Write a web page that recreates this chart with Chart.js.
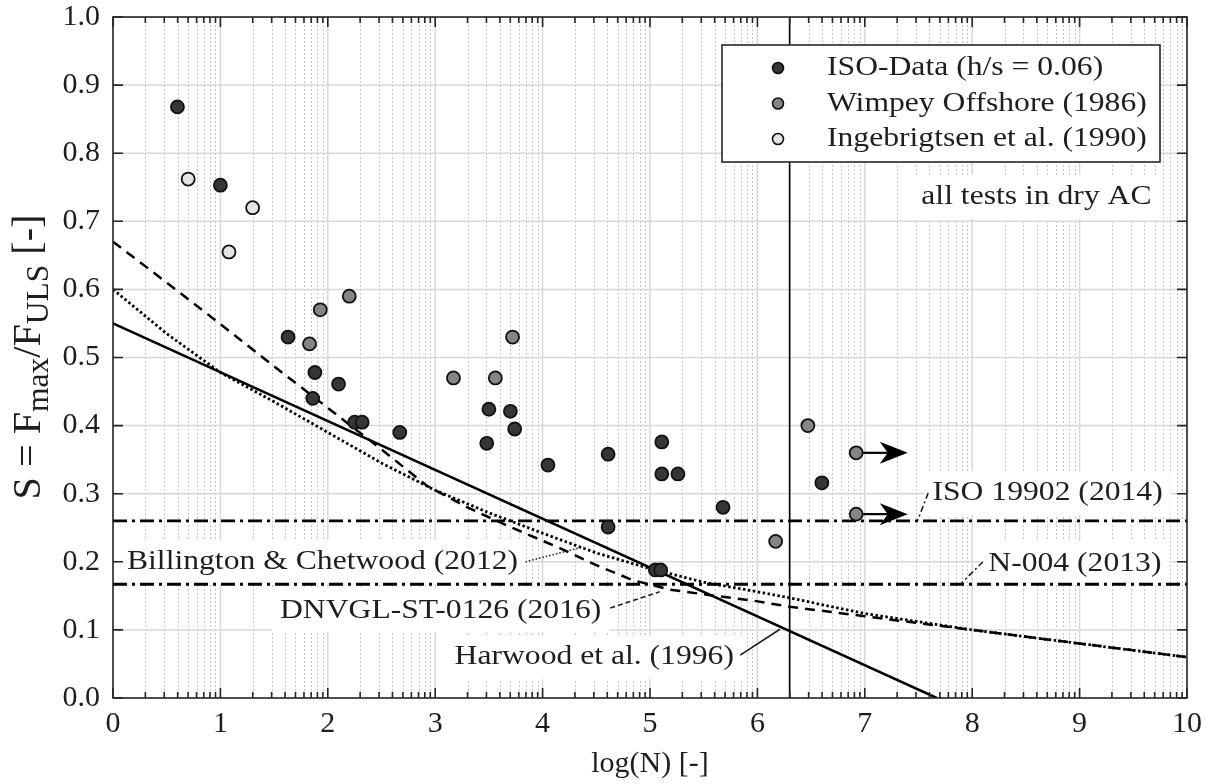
<!DOCTYPE html>
<html>
<head>
<meta charset="utf-8">
<script src="https://cdn.jsdelivr.net/npm/chart.js@4.4.1/dist/chart.umd.min.js"></script>
<style>
  html, body { margin: 0; padding: 0; background: #fff; }
  #wrap { width: 1209px; height: 784px; }
</style>
</head>
<body>
<div id="wrap"><canvas id="c" width="1209" height="784"></canvas></div>
<script>
// fatigue data: [log(N), S]
const isoData = [[0.6,0.868],[1.0,0.753],[1.63,0.53],[1.88,0.478],[1.86,0.44],[2.1,0.461],
  [2.25,0.405],[2.32,0.405],[2.67,0.39],[3.48,0.374],[3.5,0.424],[3.7,0.421],[3.74,0.395],
  [4.05,0.342],[4.61,0.358],[4.61,0.251],[5.05,0.188],[5.1,0.188],[5.11,0.376],[5.11,0.329],
  [5.26,0.329],[5.68,0.28],[6.6,0.316]];
const wimpeyData = [[1.83,0.52],[1.93,0.57],[2.2,0.59],[3.17,0.47],[3.56,0.47],[3.72,0.53],
  [6.17,0.23],[6.47,0.40],[6.92,0.36],[6.92,0.27]];
const ingebData = [[0.7,0.762],[1.08,0.655],[1.3,0.72]];

// design curves
const harwoodX = [0, 7.67];
const harwoodS = [0.55, 0];
const dnvX = [0,0.5,1,1.5,2,2.5,2.92,3.3,3.63,4.16,4.5,4.84,5.19,5.56,5.96,6.3,7,8,9,10];
const dnvS = [0.67,0.61,0.549,0.487,0.426,0.365,0.312,0.28,0.256,0.22,0.195,0.173,0.159,0.151,0.143,0.134,0.12,0.10,0.08,0.06];
const billX = [0,0.5,1,1.5,2,2.5,3,3.5,4,4.5,5,5.5,6,6.3,7,8,9,10];
const billS = [0.60,0.535,0.478,0.435,0.39,0.345,0.305,0.272,0.242,0.213,0.19,0.17,0.156,0.147,0.124,0.10,0.08,0.06];
const iso19902S = 0.26;
const n004S = 0.167;
const refLogN = 6.3;

// run-outs (arrows)
const arrowFrom = [[6.92,0.36],[6.92,0.27]];
const arrowToX = 7.4;

const xTicks = [0,1,2,3,4,5,6,7,8,9,10];
const yTicks = [0,0.1,0.2,0.3,0.4,0.5,0.6,0.7,0.8,0.9,1.0];

const legendItems = [
  { label: 'ISO-Data (h/s = 0.06)', color: '#363636' },
  { label: 'Wimpey Offshore (1986)', color: '#858585' },
  { label: 'Ingebrigtsen et al. (1990)', color: '#e4e4e4' }
];

const notes = [
  { text: 'ISO 19902 (2014)', x: 7.63, y: 0.301, align: 'left' },
  { text: 'N-004 (2013)', x: 8.15, y: 0.198, align: 'left' },
  { text: 'Billington & Chetwood (2012)', x: 0.13, y: 0.20, align: 'left' },
  { text: 'DNVGL-ST-0126 (2016)', x: 1.555, y: 0.129, align: 'left' },
  { text: 'Harwood et al. (1996)', x: 3.18, y: 0.06, align: 'left' },
  { text: 'all tests in dry AC', x: 9.67, y: 0.736, align: 'right' }
];
const leaders = [
  { pts: [[7.59,0.301],[7.49,0.26]], dash: [6,3,2,3] },
  { pts: [[8.10,0.20],[7.89,0.167]], dash: [6,3,2,3] },
  { pts: [[3.84,0.20],[4.38,0.222]], dash: [1.5,2] },
  { pts: [[4.63,0.132],[5.09,0.156]], dash: [5,3] },
  { pts: [[5.84,0.063],[6.21,0.101]], dash: [] }
];

const FONT = '"Liberation Serif", "Times New Roman", serif';
const SX = 1.13; // the source figure is slightly stretched horizontally
const INK = '#1e1e1e';

const toPts = arr => arr.map(p => ({ x: p[0], y: p[1] }));
const zipPts = (xs, ys) => xs.map((v, i) => ({ x: v, y: ys[i] }));

function textW(ctx, txt, size) {
  ctx.font = size + 'px ' + FONT;
  return ctx.measureText(txt).width * SX;
}
function drawText(ctx, txt, x, y, align, size) {
  const w = textW(ctx, txt, size);
  const x0 = align === 'right' ? x - w : align === 'center' ? x - w / 2 : x;
  ctx.save();
  ctx.translate(x0, y);
  ctx.scale(SX, 1);
  ctx.textAlign = 'left';
  ctx.textBaseline = 'middle';
  ctx.fillStyle = INK;
  ctx.fillText(txt, 0, 0);
  ctx.restore();
}

const deco = {
  id: 'deco',
  beforeDatasetsDraw(chart) {
    const { ctx, chartArea: a, scales: { x, y } } = chart;
    ctx.save();
    ctx.beginPath();
    ctx.rect(a.left, a.top, a.right - a.left, a.bottom - a.top);
    ctx.clip();
    // minor (log) grid
    ctx.strokeStyle = '#c6c6c6';
    ctx.lineWidth = 1;
    ctx.setLineDash([2, 2]);
    for (let n = 0; n < 10; n++) {
      for (let k = 2; k <= 9; k++) {
        const px = Math.round(x.getPixelForValue(n + Math.log10(k))) + 0.5;
        ctx.beginPath(); ctx.moveTo(px, a.top); ctx.lineTo(px, a.bottom); ctx.stroke();
      }
    }
    ctx.setLineDash([]);
    ctx.strokeStyle = '#d8d8d8';
    ctx.lineWidth = 1.5;
    xTicks.forEach(v => {
      const px = x.getPixelForValue(v);
      ctx.beginPath(); ctx.moveTo(px, a.top); ctx.lineTo(px, a.bottom); ctx.stroke();
    });
    yTicks.forEach(v => {
      const py = y.getPixelForValue(v);
      ctx.beginPath(); ctx.moveTo(a.left, py); ctx.lineTo(a.right, py); ctx.stroke();
    });
    // white backgrounds of the text labels
    ctx.fillStyle = '#fff';
    notes.forEach(t => {
      const w = textW(ctx, t.text, 28);
      const px = x.getPixelForValue(t.x), py = y.getPixelForValue(t.y);
      const x0 = t.align === 'right' ? px - w : px;
      ctx.fillRect(x0 - 8, py - 22, w + 16, 44);
    });
    ctx.restore();
  },
  afterDatasetsDraw(chart) {
    const { ctx, scales: { x, y } } = chart;
    ctx.save();
    ctx.strokeStyle = INK;
    ctx.lineWidth = 1.6;
    leaders.forEach(l => {
      ctx.setLineDash(l.dash);
      ctx.beginPath();
      l.pts.forEach((p, i) => {
        const px = x.getPixelForValue(p[0]), py = y.getPixelForValue(p[1]);
        i ? ctx.lineTo(px, py) : ctx.moveTo(px, py);
      });
      ctx.stroke();
    });
    ctx.setLineDash([]);
    notes.forEach(t => drawText(ctx, t.text, x.getPixelForValue(t.x), y.getPixelForValue(t.y), t.align, 28));
    // run-out arrows
    arrowFrom.forEach(p => {
      const x1 = x.getPixelForValue(p[0]) + 7, py = y.getPixelForValue(p[1]);
      const tx = x.getPixelForValue(arrowToX);
      ctx.lineWidth = 2.2;
      ctx.strokeStyle = '#000';
      ctx.beginPath(); ctx.moveTo(x1, py); ctx.lineTo(tx - 14, py); ctx.stroke();
      ctx.fillStyle = '#000';
      ctx.beginPath();
      ctx.moveTo(tx, py);
      ctx.lineTo(tx - 28, py - 11);
      ctx.lineTo(tx - 20, py);
      ctx.lineTo(tx - 28, py + 11);
      ctx.closePath();
      ctx.fill();
    });
    ctx.restore();
  },
  afterDraw(chart) {
    const { ctx, chartArea: a, scales: { x, y } } = chart;
    ctx.save();
    // axes box and inward ticks
    ctx.strokeStyle = '#262626';
    ctx.lineWidth = 1.6;
    ctx.strokeRect(a.left, a.top, a.right - a.left, a.bottom - a.top);
    ctx.beginPath();
    yTicks.forEach(v => {
      const py = y.getPixelForValue(v);
      ctx.moveTo(a.left, py); ctx.lineTo(a.left + 10, py);
      ctx.moveTo(a.right, py); ctx.lineTo(a.right - 10, py);
    });
    xTicks.forEach(v => {
      const px = x.getPixelForValue(v);
      ctx.moveTo(px, a.top); ctx.lineTo(px, a.top + 10);
      ctx.moveTo(px, a.bottom); ctx.lineTo(px, a.bottom - 10);
    });
    for (let n = 0; n < 10; n++) {
      for (let k = 2; k <= 9; k++) {
        const px = x.getPixelForValue(n + Math.log10(k));
        ctx.moveTo(px, a.top); ctx.lineTo(px, a.top + 6);
        ctx.moveTo(px, a.bottom); ctx.lineTo(px, a.bottom - 6);
      }
    }
    ctx.stroke();

    // legend
    const L = { left: 722, top: 45, right: 1160, bottom: 162 };
    ctx.fillStyle = '#fff';
    ctx.fillRect(L.left, L.top, L.right - L.left, L.bottom - L.top);
    ctx.strokeRect(L.left, L.top, L.right - L.left, L.bottom - L.top);
    legendItems.forEach((it, i) => {
      const cy = 68 + i * 35.5;
      ctx.beginPath();
      ctx.arc(778, cy, 5.5, 0, Math.PI * 2);
      ctx.fillStyle = it.color;
      ctx.fill();
      ctx.lineWidth = 1.6;
      ctx.strokeStyle = '#111';
      ctx.stroke();
      drawText(ctx, it.label, 827, cy, 'left', 28);
    });

    // y axis title with subscripts, rotated
    const parts = [
      { t: 'S = F', s: 37, dy: 0 },
      { t: 'max', s: 29, dy: 9 },
      { t: '/F', s: 37, dy: 0 },
      { t: 'ULS', s: 29, dy: 9 },
      { t: ' [-]', s: 37, dy: 0 }
    ];
    let total = 0;
    parts.forEach(p => { ctx.font = p.s + 'px ' + FONT; p.w = ctx.measureText(p.t).width; total += p.w; });
    const along = 285 / total; // reading direction length in the source
    ctx.translate(30, 357);
    ctx.rotate(-Math.PI / 2);
    ctx.scale(along, 1.08);
    ctx.fillStyle = INK;
    ctx.textBaseline = 'middle';
    ctx.textAlign = 'left';
    let cx = -total / 2;
    parts.forEach(p => {
      ctx.font = p.s + 'px ' + FONT;
      ctx.fillText(p.t, cx, p.dy);
      cx += p.w;
    });
    ctx.restore();
  }
};

const pointStyle = (data, color) => ({
  data: toPts(data),
  pointRadius: 6.5,
  pointBackgroundColor: color,
  pointBorderColor: '#111',
  pointBorderWidth: 1.8,
  showLine: false
});
const curve = (data, dash, width) => ({
  data: data,
  showLine: true,
  pointRadius: 0,
  borderColor: '#000',
  borderWidth: width || 2.5,
  borderDash: dash,
  fill: false,
  tension: 0
});

new Chart(document.getElementById('c'), {
  type: 'scatter',
  data: {
    datasets: [
      pointStyle(isoData, '#363636'),
      pointStyle(wimpeyData, '#858585'),
      pointStyle(ingebData, '#e4e4e4'),
      curve(zipPts(harwoodX, harwoodS), []),
      curve(zipPts(dnvX, dnvS), [10, 7]),
      curve(zipPts(billX, billS), [2.5, 2.5], 2.8),
      curve([{ x: 0, y: iso19902S }, { x: 10, y: iso19902S }], [14, 5, 3, 5], 2.8),
      curve([{ x: 0, y: n004S }, { x: 10, y: n004S }], [14, 5, 3, 5], 2.8),
      curve([{ x: refLogN, y: 0 }, { x: refLogN, y: 1 }], [], 1.6)
    ]
  },
  options: {
    responsive: false,
    animation: false,
    events: [],
    layout: { padding: { top: 17, right: 22, bottom: 0, left: 0 } },
    plugins: { legend: { display: false }, tooltip: { enabled: false } },
    scales: {
      x: {
        type: 'linear', min: 0, max: 10,
        grid: { display: false, drawTicks: false },
        border: { display: false },
        ticks: { stepSize: 1, padding: 8, maxRotation: 0, color: INK, font: { family: FONT, size: 30 } },
        title: { display: true, text: 'log(N) [-]', color: INK, font: { family: FONT, size: 30 }, padding: { top: 0, bottom: 2 } },
        afterFit(s) { s.height = 86; s.paddingLeft = 0; s.paddingRight = 0; }
      },
      y: {
        type: 'linear', min: 0, max: 1,
        grid: { display: false, drawTicks: false },
        border: { display: false },
        ticks: { stepSize: 0.1, padding: 13, color: INK, font: { family: FONT, size: 30 },
          callback: v => Number(v).toFixed(1) },
        afterFit(s) { s.width = 113; s.paddingTop = 0; s.paddingBottom = 0; }
      }
    }
  },
  plugins: [deco]
});
</script>
</body>
</html>
